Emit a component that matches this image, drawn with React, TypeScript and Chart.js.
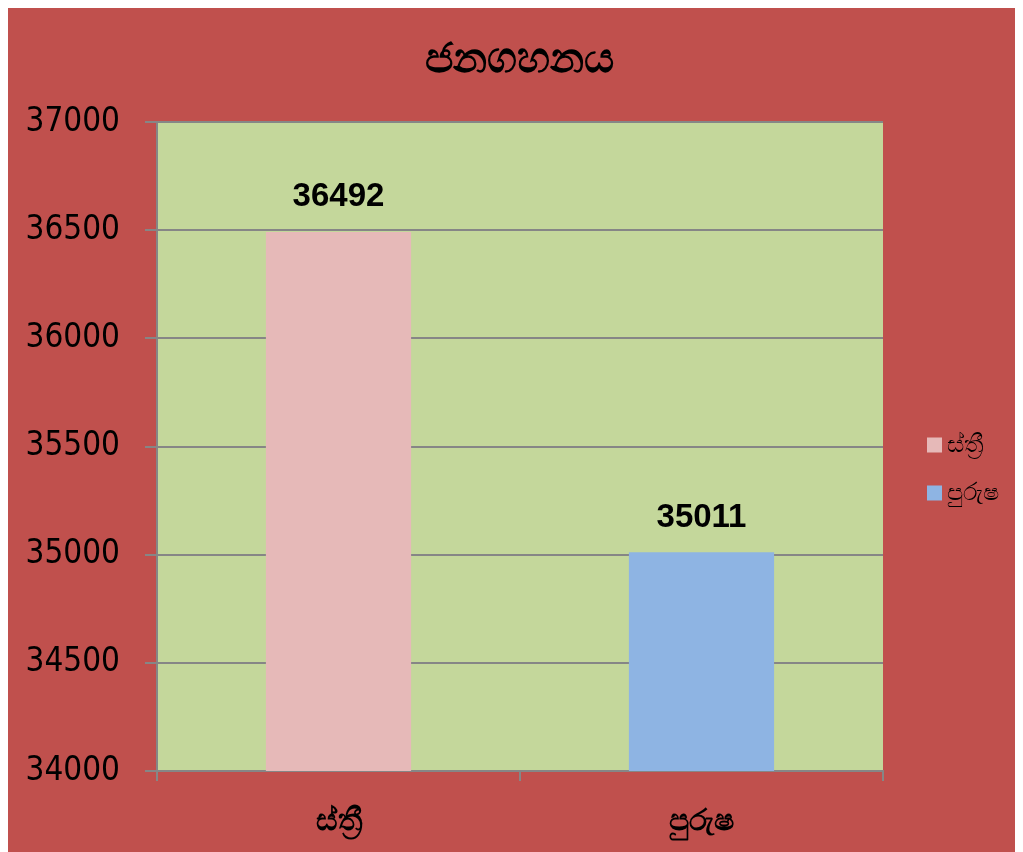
import React, { useEffect, useRef } from "react";
import { Chart, registerables } from "chart.js";

Chart.register(...registerables);

const titleText = "ජනගහනය";
const categories = ["ස්ත්‍රී", "පුරුෂ"];
const populationValues = [36492, 35011];
const barColors = ["#E6B9B8", "#8EB4E3"];
const yMin = 34000;
const yMax = 37000;
const yStep = 500;

const W = 1015;
const H = 844;

const bgPlugin = {
  id: "bgPlugin",
  beforeDraw(chart: any) {
    const { ctx, chartArea } = chart;
    ctx.save();
    ctx.fillStyle = "#C0504D";
    ctx.fillRect(0, 0, chart.width, chart.height);
    ctx.fillStyle = "#C4D79B";
    ctx.fillRect(chartArea.left, chartArea.top, chartArea.right - chartArea.left, chartArea.bottom - chartArea.top);
    ctx.restore();
  },
  afterDraw(chart: any) {
    const { ctx, chartArea } = chart;
    ctx.save();
    // title
    ctx.fillStyle = "#000";
    ctx.font = "bold 42px 'Noto Sans', 'DejaVu Sans', sans-serif";
    ctx.textAlign = "center";
    ctx.textBaseline = "middle";
    ctx.fillText(titleText, 511, 52);
    // data labels
    const meta = chart.getDatasetMeta(0);
    ctx.font = "bold 33px 'Liberation Sans', sans-serif";
    ctx.textBaseline = "bottom";
    meta.data.forEach((bar: any, i: number) => {
      ctx.fillText(String(populationValues[i]), bar.x, bar.y - 18);
    });
    // legend
    const lx = chartArea.right + 44;
    const ys = [437, 485];
    ctx.textAlign = "left";
    ctx.textBaseline = "middle";
    ctx.font = "24px 'Noto Sans', 'DejaVu Sans', sans-serif";
    categories.forEach((c, i) => {
      ctx.fillStyle = barColors[i];
      ctx.fillRect(lx, ys[i] - 7.5, 15, 15);
      ctx.fillStyle = "#000";
      ctx.fillText(c, lx + 20, ys[i]);
    });
    ctx.restore();
  },
};

export default function App() {
  const ref = useRef<HTMLCanvasElement | null>(null);
  useEffect(() => {
    document.documentElement.style.overflow = "hidden";
    const canvas = ref.current;
    if (!canvas) return;
    const chart = new Chart(canvas, {
      type: "bar",
      data: {
        labels: categories,
        datasets: [
          {
            label: titleText,
            data: populationValues,
            backgroundColor: barColors,
            borderWidth: 0,
            barPercentage: 0.4,
            categoryPercentage: 1,
          },
        ],
      },
      options: {
        responsive: false,
        animation: false,
        layout: { padding: { top: 114, right: 140, left: 0, bottom: 0 } },
        plugins: {
          legend: { display: false },
          title: { display: false },
          tooltip: { enabled: false },
        },
        scales: {
          x: {
            afterFit(scale: any) {
              scale.height = H - 763;
            },
            grid: {
              display: true,
              drawOnChartArea: false,
              drawTicks: true,
              tickLength: 10,
              color: "#868686",
              lineWidth: 2,
            },
            border: { display: true, color: "#868686", width: 2 },
            ticks: {
              color: "#000",
              padding: 22,
              font: { family: "'Noto Sans', 'DejaVu Sans', sans-serif", size: 30, weight: "bold" },
            },
          },
          y: {
            min: yMin,
            max: yMax,
            afterFit(scale: any) {
              scale.width = 149;
            },
            grid: {
              color: "#868686",
              lineWidth: 2,
              tickLength: 12,
              drawTicks: true,
            },
            border: { display: true, color: "#868686", width: 2 },
            ticks: {
              stepSize: yStep,
              color: "#000",
              padding: 25,
              callback: (v: any) => String(v),
              font: { family: "'DejaVu Sans Condensed', 'Liberation Sans Narrow', sans-serif", size: 33 },
            },
          },
        },
      },
      plugins: [bgPlugin],
    });
    return () => chart.destroy();
  }, []);
  return (
    <div style={{ width: W, height: H }}>
      <canvas ref={ref} width={W} height={H} style={{ display: "block" }} />
    </div>
  );
}
